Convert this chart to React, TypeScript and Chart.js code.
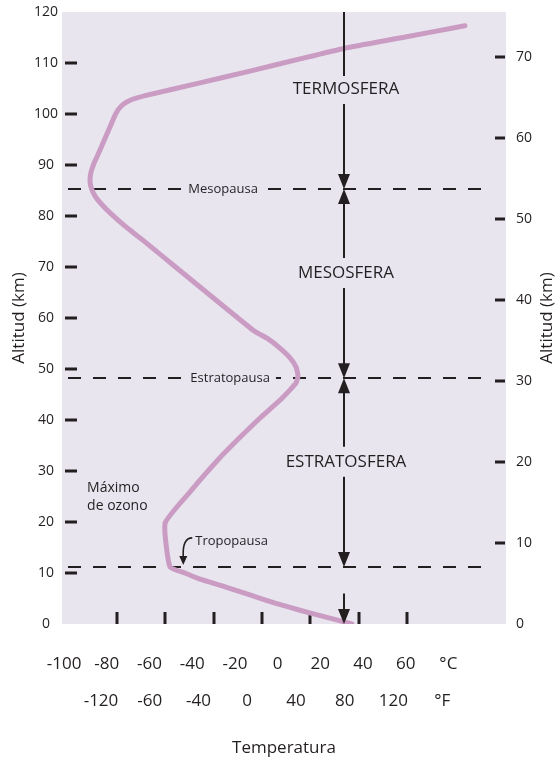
import React, { useEffect, useRef } from 'react';
import { Chart, registerables } from 'chart.js';

Chart.register(...registerables);

// ---- data ----
const tempC = [17.2, 6.1, -4.3, -14.6, -25.0, -35.3, -45.7, -51.9, -58.1, -60.1, -49.8, -38.2, -29.3, -20.8, -12.1, -8.4, -5.9, -5.1, -5.9, -8.4, -12.6, -17.5, -23.7, -70.5, -76.7, -82.9, -86.6, -89.1, -90.8, -91.2, -90.8, -89.5, -88.3, -82.9, -81.2, -79.6, -77.5, -75.0, -72.1, -68.4, -45.7, -25.0, -4.3, 14.3, 37.1, 64.0];
const altKm = [0, 1.4, 2.7, 4.1, 5.7, 7.3, 8.8, 10.0, 11.2, 19.8, 25.9, 32.2, 36.5, 40.4, 44.1, 45.9, 47.3, 48.6, 50.4, 52.2, 54.1, 55.9, 57.6, 75.7, 78.0, 80.6, 82.4, 83.9, 85.7, 87.1, 88.6, 90.4, 91.6, 97.5, 99.4, 100.8, 101.9, 102.6, 103.1, 103.6, 106.1, 108.4, 110.8, 112.9, 114.9, 117.3];

const kmTickMarks = [10, 20, 30, 40, 50, 60, 70, 80, 90, 100, 110];
const mileTickMarks = [10, 20, 30, 40, 50, 60, 70];
const tempTickMarks = [-80, -60, -40, -20, 0, 20, 40];
const celsiusLabels = [-100, -80, -60, -40, -20, 0, 20, 40, 60];
const fahrenheitLabels = ['-120', '-60', '-40', '0', '40', '80', '120', '°F'];

const pauseNames = ['Tropopausa', 'Estratopausa', 'Mesopausa'];
const pauseKm = [11.2, 48.2, 85.3];
const pauseLabelTempC = [-32.6, -33.2, -36.1];
const pauseLabelKm = [16.3, 48.2, 85.3];

const layerNames = ['ESTRATOSFERA', 'MESOSFERA', 'TERMOSFERA'];
const layerLabelKm = [31.8, 68.8, 104.9];
const arrowTempC = 14;
const troposphereArrowTopKm = 6;

const ozoneNote = ['Máximo', 'de ozono'];
const ozoneNoteTempC = -92.4;
const ozoneNoteKm = [26.7, 23.1];

// ---- styles ----
const FONT = '"Open Sans", "Noto Sans", sans-serif';
const INK = '#231f20';
const BG = '#e8e5ef';
const CURVE = '#cb9cc3';

function arrowHead(ctx: any, x: number, tipY: number, dir: number) {
  ctx.beginPath();
  ctx.moveTo(x, tipY);
  ctx.lineTo(x - 6, tipY - 15 * dir);
  ctx.lineTo(x + 6, tipY - 15 * dir);
  ctx.closePath();
  ctx.fill();
}

const overlay = {
  id: 'overlay',
  beforeDraw(chart: any) {
    const { ctx, chartArea: a } = chart;
    ctx.save();
    ctx.fillStyle = BG;
    ctx.fillRect(a.left, a.top, a.right - a.left, a.bottom - a.top);
    ctx.restore();
  },
  beforeDatasetsDraw(chart: any) {
    const { ctx, chartArea: a, scales } = chart;
    const xs = scales.x, ys = scales.y, y2 = scales.y2;
    ctx.save();
    ctx.fillStyle = INK;
    kmTickMarks.forEach((v) => {
      const py = Math.round(ys.getPixelForValue(v));
      ctx.fillRect(a.left + 3, py - 1.5, 12, 3);
    });
    mileTickMarks.forEach((v) => {
      const py = Math.round(y2.getPixelForValue(v));
      ctx.fillRect(a.right - 11, py - 1.5, 10, 3);
    });
    tempTickMarks.forEach((v) => {
      const px = Math.round(xs.getPixelForValue(v));
      ctx.fillRect(px - 1.5, a.bottom - 12, 3, 12);
    });
    ctx.strokeStyle = INK;
    ctx.lineWidth = 2;
    ctx.setLineDash([13, 12]);
    pauseKm.forEach((km) => {
      const py = Math.round(ys.getPixelForValue(km));
      ctx.beginPath();
      ctx.moveTo(a.left + 6, py);
      ctx.lineTo(a.right - 14, py);
      ctx.stroke();
    });
    ctx.setLineDash([]);
    ctx.font = '13px ' + FONT;
    ctx.textAlign = 'center';
    ctx.textBaseline = 'middle';
    pauseNames.forEach((name, i) => {
      const px = xs.getPixelForValue(pauseLabelTempC[i]);
      const py = ys.getPixelForValue(pauseLabelKm[i]);
      const w = ctx.measureText(name).width;
      if (pauseLabelKm[i] === pauseKm[i]) {
        ctx.fillStyle = BG;
        ctx.fillRect(px - w / 2 - 6, py - 8, w + 12, 16);
      } else {
        const lineY = ys.getPixelForValue(pauseKm[i]);
        const sx = px - w / 2 - 3;
        const sy = py - 3;
        const ex = sx - 9;
        ctx.strokeStyle = INK;
        ctx.lineWidth = 1.6;
        ctx.beginPath();
        ctx.moveTo(sx, sy);
        ctx.quadraticCurveTo(ex - 1, sy, ex, lineY - 10);
        ctx.stroke();
        ctx.fillStyle = INK;
        ctx.beginPath();
        ctx.moveTo(ex, lineY - 2);
        ctx.lineTo(ex - 4, lineY - 11);
        ctx.lineTo(ex + 4, lineY - 11);
        ctx.closePath();
        ctx.fill();
      }
      ctx.fillStyle = INK;
      ctx.fillText(name, px, py);
    });
    ctx.font = '14px ' + FONT;
    ctx.textAlign = 'left';
    ozoneNote.forEach((line, i) => {
      ctx.fillText(line, xs.getPixelForValue(ozoneNoteTempC), ys.getPixelForValue(ozoneNoteKm[i]));
    });
    ctx.restore();
  },
  afterDatasetsDraw(chart: any) {
    const { ctx, chartArea: a, scales } = chart;
    const xs = scales.x, ys = scales.y;
    const ax = Math.round(xs.getPixelForValue(arrowTempC));
    ctx.save();
    ctx.strokeStyle = INK;
    ctx.fillStyle = INK;
    ctx.lineWidth = 2;
    const gap = 15;
    const seg = (y1: number, y2: number) => {
      ctx.beginPath();
      ctx.moveTo(ax, y1);
      ctx.lineTo(ax, y2);
      ctx.stroke();
    };
    layerNames.forEach((name, i) => {
      const ly = ys.getPixelForValue(layerLabelKm[i]);
      const lower = ys.getPixelForValue(pauseKm[i]);
      seg(ly + gap, lower - 12);
      arrowHead(ctx, ax, lower, 1);
      if (i + 1 < pauseKm.length) {
        const upper = ys.getPixelForValue(pauseKm[i + 1]);
        seg(ly - gap, upper + 12);
        arrowHead(ctx, ax, upper, -1);
      } else {
        seg(a.top, ly - gap + 2);
      }
      ctx.font = '17px ' + FONT;
      ctx.textAlign = 'center';
      ctx.textBaseline = 'middle';
      ctx.fillText(name, ax + 2, ly);
    });
    const tTop = ys.getPixelForValue(troposphereArrowTopKm);
    const tTip = ys.getPixelForValue(0);
    seg(tTop, tTip - 12);
    arrowHead(ctx, ax, tTip, 1);
    ctx.restore();
  },
  afterDraw(chart: any) {
    const { ctx, chartArea: a } = chart;
    ctx.save();
    ctx.fillStyle = INK;
    ctx.font = '17px ' + FONT;
    ctx.textAlign = 'center';
    ctx.textBaseline = 'middle';
    ctx.translate(547, (a.top + a.bottom) / 2);
    ctx.rotate(-Math.PI / 2);
    ctx.fillText('Altitud (km)', 0, 0);
    ctx.restore();
  },
};

const hiddenTickGrid = (len: number) => ({
  display: true,
  drawOnChartArea: false,
  drawTicks: true,
  tickLength: len,
  tickColor: 'rgba(0,0,0,0)',
});

export default function App() {
  const ref = useRef<HTMLCanvasElement>(null);
  useEffect(() => {
    const canvas = ref.current;
    if (!canvas) return;
    const points = tempC.map((t, i) => ({ x: t, y: altKm[i] }));
    const chart = new Chart(canvas, {
      type: 'line',
      data: {
        datasets: [
          {
            data: points,
            borderColor: CURVE,
            borderWidth: 5,
            borderCapStyle: 'round',
            borderJoinStyle: 'round',
            pointRadius: 0,
            tension: 0.15,
            fill: false,
            xAxisID: 'x',
            yAxisID: 'y',
          },
        ],
      },
      options: {
        responsive: false,
        devicePixelRatio: 1,
        animation: false,
        events: [],
        layout: { padding: { top: 12, left: 0, right: 0, bottom: 0 } },
        plugins: { legend: { display: false }, tooltip: { enabled: false }, title: { display: false } },
        scales: {
          x: { type: 'linear', min: -102.8, max: 81, display: false, weight: 5 },
          xC: {
            type: 'linear',
            position: 'bottom',
            weight: 0,
            min: -101,
            max: 107,
            grid: { display: false },
            border: { display: false },
            afterBuildTicks: (s: any) => {
              const step = celsiusLabels[1] - celsiusLabels[0];
              const vals = [...celsiusLabels, celsiusLabels[celsiusLabels.length - 1] + step];
              s.ticks = vals.map((v) => ({ value: v }));
            },
            afterFit: (s: any) => { s.height = 57; },
            ticks: {
              autoSkip: false,
              maxRotation: 0,
              minRotation: 0,
              padding: 22,
              color: INK,
              font: { family: FONT, size: 17 },
              callback: (v: any) => (celsiusLabels.includes(v) ? String(v) : '°C'),
            },
          },
          xF: {
            type: 'linear',
            position: 'bottom',
            weight: 1,
            min: -0.8,
            max: 8.31,
            grid: { display: false },
            border: { display: false },
            afterBuildTicks: (s: any) => {
              s.ticks = fahrenheitLabels.map((_, i) => ({ value: i }));
            },
            afterFit: (s: any) => { s.height = 78; },
            ticks: {
              autoSkip: false,
              maxRotation: 0,
              minRotation: 0,
              padding: 2,
              color: INK,
              font: { family: FONT, size: 17 },
              callback: (v: any) => fahrenheitLabels[v],
            },
            title: {
              display: true,
              text: 'Temperatura',
              color: INK,
              font: { family: FONT, size: 17 },
              padding: { top: 0, bottom: 1 },
            },
          },
          y: {
            type: 'linear',
            position: 'left',
            min: 0,
            max: 120,
            grid: hiddenTickGrid(4),
            border: { display: false },
            afterFit: (s: any) => { s.width = 62; },
            ticks: {
              stepSize: 10,
              padding: 0,
              crossAlign: 'center',
              color: INK,
              font: { family: FONT, size: 14 },
            },
            title: {
              display: true,
              text: 'Altitud (km)',
              color: INK,
              font: { family: FONT, size: 17 },
              padding: { top: 9, bottom: 0 },
            },
          },
          y2: {
            type: 'linear',
            position: 'right',
            min: 0,
            max: 75.5,
            grid: hiddenTickGrid(10),
            border: { display: false },
            afterFit: (s: any) => { s.width = 50; },
            ticks: {
              stepSize: 10,
              includeBounds: false,
              padding: 0,
              color: INK,
              font: { family: FONT, size: 14 },
            },
          },
        },
      } as any,
      plugins: [overlay],
    });
    return () => chart.destroy();
  }, []);
  return (
    <div style={{ position: 'fixed', left: 0, top: 0, width: 556, height: 759, background: '#ffffff' }}>
      <canvas ref={ref} width={556} height={759} style={{ display: 'block', width: 556, height: 759 }} />
    </div>
  );
}
